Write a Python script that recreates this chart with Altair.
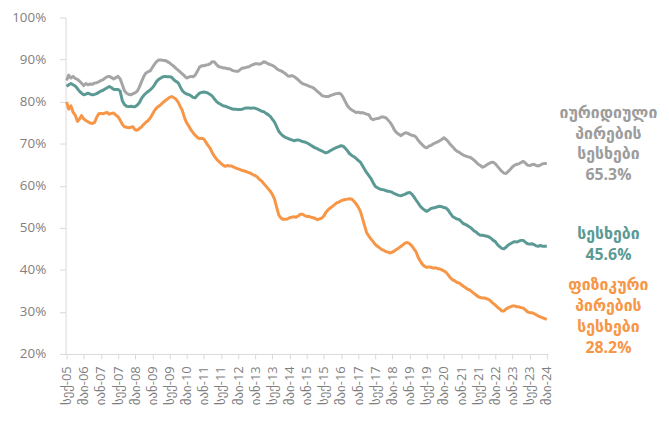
import altair as alt
import pandas as pd

# ---------------- data (monthly, Sep-2005 .. May-2024, % share) ----------------
first_month = "2005-09-01"

gray = [85.0, 86.3, 85.6, 86.0, 85.5, 85.3, 84.9, 84.4, 83.8, 84.3,
        84.0, 84.2, 84.1, 84.4, 84.5, 84.7, 85.0, 85.2, 85.6, 85.9,
        86.0, 85.7, 85.4, 85.7, 86.0, 85.4, 84.0, 82.6, 82.0, 81.7,
        81.6, 81.9, 82.1, 82.5, 83.5, 84.8, 86.0, 86.8, 87.1, 87.3,
        88.1, 88.9, 89.5, 89.9, 89.9, 89.8, 89.8, 89.5, 89.2, 88.8,
        88.4, 87.9, 87.5, 87.0, 86.6, 86.1, 85.6, 85.8, 86.0, 85.9,
        86.3, 87.2, 88.2, 88.5, 88.5, 88.7, 88.8, 89.0, 89.5, 89.4,
        88.8, 88.3, 88.2, 88.0, 88.0, 87.8, 87.8, 87.5, 87.3, 87.2,
        87.2, 87.6, 88.0, 88.0, 88.2, 88.3, 88.6, 88.8, 89.0, 89.0,
        88.9, 89.1, 89.5, 89.3, 89.0, 88.8, 88.6, 88.3, 87.8, 87.5,
        87.3, 87.0, 86.7, 86.2, 86.0, 86.2, 86.0, 85.6, 85.2, 84.7,
        84.3, 84.1, 83.9, 83.7, 83.5, 83.3, 82.9, 82.4, 82.0, 81.5,
        81.3, 81.2, 81.2, 81.4, 81.6, 81.8, 81.9, 82.0, 81.8, 81.0,
        80.0, 79.0, 78.4, 78.0, 77.7, 77.4, 77.5, 77.3, 77.4, 77.2,
        77.0, 76.9, 76.0, 75.7, 75.9, 76.0, 76.1, 76.4, 76.3, 76.1,
        75.6, 75.0, 74.2, 73.2, 72.6, 72.2, 71.9, 72.3, 72.6, 72.5,
        72.2, 72.0, 71.9, 71.6, 70.8, 70.2, 69.7, 69.2, 69.0, 69.4,
        69.6, 69.9, 70.2, 70.4, 70.7, 71.0, 71.4, 71.0, 70.5, 69.8,
        69.3, 68.7, 68.2, 68.0, 67.6, 67.3, 67.1, 66.9, 66.8, 66.5,
        66.1, 65.6, 65.1, 64.8, 64.4, 64.6, 65.0, 65.3, 65.5, 65.6,
        65.2, 64.6, 64.0, 63.4, 63.0, 62.9, 63.4, 63.9, 64.5, 64.9,
        65.1, 65.2, 65.5, 65.8, 65.4, 64.9, 64.8, 65.0, 65.1, 64.8,
        64.7, 64.9, 65.2, 65.3, 65.3]

teal = [83.6, 84.0, 84.3, 84.0, 83.7, 83.1, 82.5, 82.0, 81.6, 81.8,
        82.0, 81.8, 81.6, 81.7, 81.9, 82.2, 82.5, 82.7, 83.0, 83.3,
        83.6, 83.3, 82.9, 82.9, 82.9, 82.5, 80.2, 79.3, 78.9, 78.8,
        78.9, 78.8, 78.8, 79.2, 79.8, 80.8, 81.5, 82.0, 82.4, 82.8,
        83.3, 84.0, 84.8, 85.3, 85.6, 85.9, 86.0, 85.9, 85.9, 85.8,
        85.2, 84.8, 84.5, 83.5, 82.6, 82.1, 81.8, 81.7, 81.4, 81.0,
        80.9, 81.5, 82.0, 82.2, 82.3, 82.2, 82.0, 81.7, 81.3, 80.6,
        80.0, 79.6, 79.3, 79.0, 78.9, 78.7, 78.5, 78.3, 78.2, 78.2,
        78.1, 78.1, 78.2, 78.4, 78.5, 78.5, 78.4, 78.5, 78.4, 78.2,
        78.0, 77.7, 77.6, 77.2, 76.9, 76.5, 75.8, 75.1, 74.0, 72.9,
        72.3, 71.8, 71.5, 71.3, 71.1, 70.9, 70.7, 70.8, 70.9, 70.7,
        70.5, 70.4, 70.2, 69.9, 69.6, 69.3, 69.0, 68.8, 68.5, 68.3,
        68.0, 67.8, 68.0, 68.3, 68.6, 68.9, 69.1, 69.3, 69.5, 69.4,
        68.9, 68.3, 67.6, 67.2, 66.9, 66.5, 66.0, 65.6, 64.8, 63.9,
        63.1, 62.4, 61.7, 60.7, 59.8, 59.5, 59.2, 59.1, 59.0, 58.8,
        58.7, 58.6, 58.4, 58.1, 57.9, 57.7, 57.6, 57.8, 58.0, 58.3,
        58.4, 58.0, 57.4, 56.6, 55.9, 55.1, 54.6, 54.2, 53.9, 54.2,
        54.6, 54.7, 54.8, 55.0, 55.1, 55.0, 54.8, 54.7, 54.2, 53.4,
        52.7, 52.4, 52.1, 52.0, 51.5, 51.0, 50.8, 50.5, 50.2, 49.8,
        49.3, 49.0, 48.5, 48.2, 48.2, 48.1, 48.0, 47.8, 47.5, 47.0,
        46.7, 46.0, 45.5, 45.1, 45.0, 45.4, 45.9, 46.2, 46.5, 46.7,
        46.6, 46.8, 47.0, 47.0, 46.6, 46.2, 46.1, 46.2, 46.0, 45.7,
        45.6, 45.8, 45.6, 45.6, 45.6]

orange = [79.9, 78.2, 79.0, 77.5, 76.8, 75.3, 75.8, 76.7, 75.9, 75.5,
          75.2, 74.9, 74.8, 75.0, 76.2, 77.1, 77.2, 77.1, 77.3, 77.4,
          77.0, 77.2, 77.3, 76.8, 76.4, 75.6, 74.6, 74.0, 73.9, 73.8,
          73.9, 74.0, 73.3, 73.2, 73.6, 74.0, 74.6, 75.1, 75.5, 76.1,
          77.0, 77.9, 78.5, 78.9, 79.3, 79.8, 80.2, 80.6, 81.0, 81.2,
          80.9, 80.6, 79.9, 78.8, 77.9, 76.2, 75.0, 74.2, 73.3, 72.6,
          72.0, 71.5, 71.2, 71.3, 71.1, 70.3, 69.6, 68.9, 67.8, 67.0,
          66.3, 65.8, 65.3, 64.9, 64.6, 64.8, 64.7, 64.7, 64.4, 64.2,
          64.0, 63.8, 63.6, 63.5, 63.3, 63.1, 62.9, 62.6, 62.4, 62.0,
          61.5, 61.1, 60.5, 59.9, 59.3, 58.7, 57.9, 56.8, 54.8, 53.0,
          52.3, 52.0, 52.0, 52.1, 52.4, 52.5, 52.6, 52.5, 52.8, 53.2,
          53.2, 52.9, 52.7, 52.7, 52.5, 52.4, 52.2, 51.9, 52.1, 52.3,
          52.8, 53.7, 54.3, 54.7, 55.1, 55.5, 55.9, 56.1, 56.4, 56.6,
          56.7, 56.8, 56.9, 56.8, 56.3, 55.7, 54.9, 53.9, 52.3, 50.5,
          48.8, 48.0, 47.3, 46.7, 46.0, 45.6, 45.2, 44.8, 44.6, 44.3,
          44.2, 44.0, 44.2, 44.5, 44.9, 45.2, 45.6, 46.0, 46.4, 46.5,
          46.2, 45.7, 45.0, 44.3, 43.0, 42.1, 41.3, 40.8, 40.6, 40.7,
          40.6, 40.4, 40.5, 40.3, 40.2, 40.0, 39.7, 39.4, 38.8, 38.1,
          37.6, 37.4, 37.0, 36.9, 36.5, 36.1, 35.8, 35.4, 35.2, 34.8,
          34.4, 34.0, 33.6, 33.4, 33.3, 33.3, 33.1, 32.9, 32.5, 32.0,
          31.6, 31.1, 30.7, 30.2, 30.2, 30.7, 31.0, 31.2, 31.4, 31.4,
          31.2, 31.2, 31.0, 30.9, 30.5, 30.0, 29.8, 29.8, 29.6, 29.3,
          29.0, 28.8, 28.6, 28.4, 28.2]

series_names = ["იურიდიული პირების სესხები", "სესხები", "ფიზიკური პირების სესხები"]
series_label_lines = [["იურიდიული", "პირების", "სესხები"],
                      ["სესხები"],
                      ["ფიზიკური", "პირების", "სესხები"]]
series_values = [gray, teal, orange]
line_colors = ["#A5A5A5", "#5B9A94", "#F79646"]
text_colors = ["#9C9C9C", "#5B9A94", "#F79646"]

month_abbr = {0: "იან", 4: "მაი", 8: "სექ"}
tick_step = "8MS"
y_ticks = [20, 30, 40, 50, 60, 70, 80, 90, 100]

# ---------------- build table ----------------
def to_ms(ts):
    return (ts - pd.Timestamp("1970-01-01")) // pd.Timedelta(milliseconds=1)

frames = []
for name, vals in zip(series_names, series_values):
    d = pd.date_range(first_month, periods=len(vals), freq="MS")
    frames.append(pd.DataFrame({"t": [int(to_ms(x)) for x in d],
                                "value": vals, "series": name}))
df = pd.concat(frames, ignore_index=True)

n_months = len(gray)
tick_dates = pd.date_range(first_month, periods=(n_months - 1) // 8 + 1, freq=tick_step)
tick_values = [int(to_ms(x)) for x in tick_dates]
half = pd.Timedelta(days=15)
first_ts = pd.Timestamp(first_month)
last_ts = pd.date_range(first_month, periods=n_months, freq="MS")[-1]
x_domain = [int(to_ms(first_ts - half)), int(to_ms(last_ts + half))]

label_expr = ("(utcmonth(datum.value)==0?'" + month_abbr[0] + "':utcmonth(datum.value)==4?'"
              + month_abbr[4] + "':'" + month_abbr[8] + "')+'-'+utcFormat(datum.value,'%y')")

FONT = "Open Sans, DejaVu Sans, sans-serif"
AXIS_GRAY = "#D9D9D9"
LABEL_GRAY = "#7F7F7F"

lines = alt.Chart(df).mark_line(strokeWidth=3, strokeJoin="round").encode(
    x=alt.X("t:T", title=None,
            scale=alt.Scale(type="utc", domain=x_domain),
            axis=alt.Axis(values=tick_values, labelExpr=label_expr, labelAngle=270,
                          labelFontSize=13, labelColor=LABEL_GRAY, labelFont=FONT,
                          domainColor=AXIS_GRAY, tickColor=AXIS_GRAY, tickSize=5,
                          labelPadding=7, grid=False, labelOverlap=False, labelFlush=False)),
    y=alt.Y("value:Q", title=None,
            scale=alt.Scale(domain=[20, 100], nice=False, zero=False),
            axis=alt.Axis(values=y_ticks, labelExpr="datum.value + '%'",
                          labelFontSize=13.5, labelColor=LABEL_GRAY, labelFont=FONT,
                          domainColor=AXIS_GRAY, tickColor=AXIS_GRAY, tickSize=6,
                          labelPadding=14, grid=False)),
    color=alt.Color("series:N", scale=alt.Scale(domain=series_names, range=line_colors),
                    legend=None),
    detail="series:N",
)

# y (pixels from plot top) of the first line of each end label
label_y = [96, 218, 270]
layers = [lines]
for lines_txt, vals, col, yy in zip(series_label_lines, series_values, text_colors, label_y):
    txt = lines_txt + [f"{vals[-1]:.1f}%"]
    layers.append(
        alt.Chart(df).mark_text(align="center", baseline="middle", fontSize=16,
                                fontWeight="bold", lineHeight=21, font=FONT, color=col)
        .encode(x=alt.value(547), y=alt.value(yy), text=alt.value(txt))
        .transform_filter("datum.t == " + str(tick_values[0]) + " && datum.series == '" + series_names[0] + "'")
    )

chart = alt.layer(*layers).properties(
    width=486, height=339,
    autosize=alt.AutoSizeParams(type="none"),
    padding={"left": 58, "top": 8, "right": 114, "bottom": 62},
).configure_view(stroke=None)

chart.save("out.html", embed_options={"renderer": "svg", "actions": False})
